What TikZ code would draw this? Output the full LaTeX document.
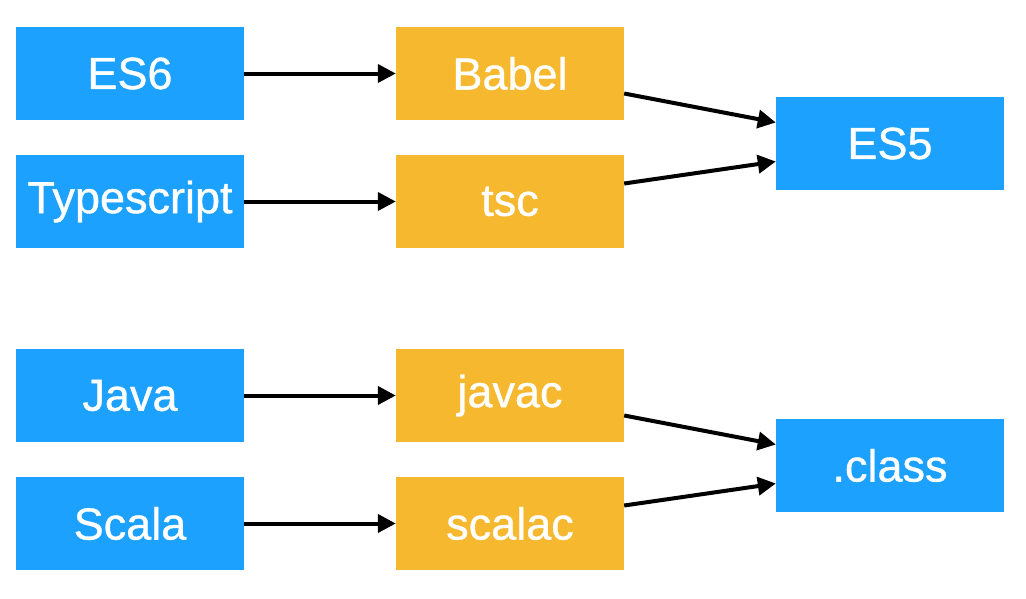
\documentclass[tikz,border=0pt]{standalone}
\usepackage{fontspec}
\setmainfont{Liberation Sans}
\newfontfamily\boxfont[FakeBold=0.8]{Liberation Sans}
\usetikzlibrary{arrows.meta,calc}
\definecolor{bluebox}{RGB}{29,161,255}
\definecolor{orangebox}{RGB}{246,184,46}
\begin{document}
\begin{tikzpicture}[x=1pt,y=-1pt,
  box/.style={minimum width=228pt,minimum height=93pt,inner sep=0pt,text=white,
    font=\boxfont\fontsize{45}{50}\selectfont},
  src/.style={box,fill=bluebox},
  tool/.style={box,fill=orangebox},
  arr/.style={line width=4pt,-{Triangle[length=18pt,width=18pt]}}]
\useasboundingbox (0,0) rectangle (1026,598);
\node[src] (es6) at (130,73.5) {ES6};
\node[src] (ts) at (130,201.5) {Typescript};
\node[tool] (babel) at (510,73.5) {Babel};
\node[tool] (tsc) at (510,201.5) {tsc};
\node[src] (es5) at (890,143.5) {ES5};
\node[src] (java) at (130,395.5) {Java};
\node[src] (scala) at (130,523.5) {Scala};
\node[tool] (javac) at (510,395.5) {javac};
\node[tool] (scalac) at (510,523.5) {scalac};
\node[src] (class) at (890,465.5) {.class};
\draw[arr] (es6) -- (babel);
\draw[arr] (ts) -- (tsc);
\draw[arr] (java) -- (javac);
\draw[arr] (scala) -- (scalac);
\draw[arr] ($(babel.east)+(0,20)$) -- ($(es5.west)+(0,-21)$);
\draw[arr] ($(tsc.east)+(0,-18)$) -- ($(es5.west)+(0,18)$);
\draw[arr] ($(javac.east)+(0,20)$) -- ($(class.west)+(0,-21)$);
\draw[arr] ($(scalac.east)+(0,-18)$) -- ($(class.west)+(0,18)$);
\end{tikzpicture}
\end{document}
